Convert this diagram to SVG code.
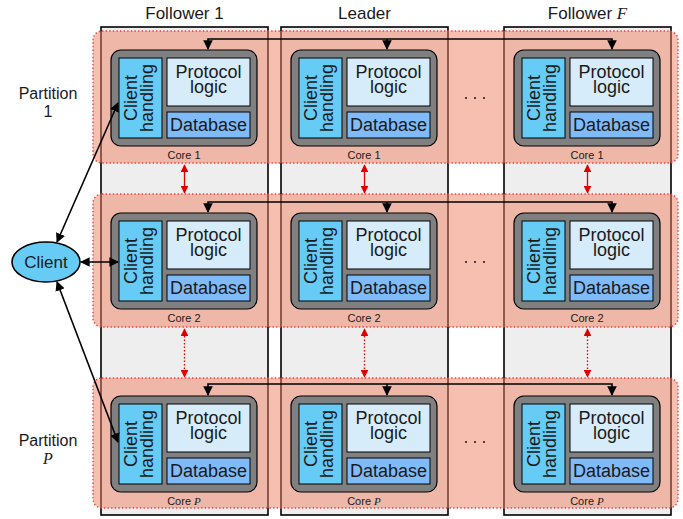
<svg xmlns="http://www.w3.org/2000/svg" width="683" height="519" viewBox="0 0 683 519">
  <style>
    .col { fill: #eeeeee; stroke: #000; stroke-width: 1.6; }
    .band { fill: #f08060; fill-opacity: 0.5; stroke: #f03c3c; stroke-width: 1.4; stroke-dasharray: 1.4 2.2; }
    .core { fill: #808080; stroke: #000; stroke-width: 1.2; }
    .ch { fill: #66ccf5; stroke: #000; stroke-width: 1; }
    .pl { fill: #d6ecfa; stroke: #000; stroke-width: 1; }
    .db { fill: #80bbf9; stroke: #000; stroke-width: 1; }
    .t { font-family: "Liberation Sans", Arial, sans-serif; fill: #1a1a1a; }
    .big { font-size: 18px; text-anchor: middle; }
    .hdr { font-size: 17px; text-anchor: middle; }
    .lbl { font-size: 16px; text-anchor: middle; }
    .small { font-size: 11px; text-anchor: middle; }
    .m { font-family: "Liberation Serif", "Times New Roman", serif; font-style: italic; }
    .blk { fill: none; stroke: #000; stroke-width: 1.6; }
    .red { fill: none; stroke: #e00000; stroke-width: 1.3; }
    .reddot { fill: none; stroke: #e00000; stroke-width: 1.3; stroke-dasharray: 1.5 2; }
    .dot { fill: #000; }
  </style>
  <defs>
    <marker id="ah" viewBox="0 0 10 10" refX="9" refY="5" markerWidth="6" markerHeight="6" orient="auto-start-reverse" markerUnits="strokeWidth">
      <path d="M0,0 L10,5 L0,10 z" fill="#000"/>
    </marker>
    <marker id="ahr" viewBox="0 0 10 10" refX="9" refY="5" markerWidth="6" markerHeight="6" orient="auto-start-reverse" markerUnits="strokeWidth">
      <path d="M0,0 L10,5 L0,10 z" fill="#e00000"/>
    </marker>
    <g id="coreTpl">
      <rect class="core" x="0" y="0" width="146" height="96" rx="10"/>
      <rect class="ch" x="8" y="8" width="43" height="80"/>
      <rect class="pl" x="56" y="8" width="83" height="48"/>
      <rect class="db" x="56" y="62" width="83" height="26"/>
      <g transform="translate(29.5,48) rotate(-90)">
        <text class="t big" x="0" y="-3.5">Client</text>
        <text class="t big" x="0" y="12.5">handling</text>
      </g>
      <text class="t big" x="97.5" y="28">Protocol</text>
      <text class="t big" x="97.5" y="43">logic</text>
      <text class="t big" x="97.5" y="81">Database</text>
    </g>
  </defs>

  <!-- replica columns -->
  <g id="columns">
    <rect class="col" x="101" y="27" width="167" height="488"/>
    <rect class="col" x="281" y="27" width="167" height="488"/>
    <rect class="col" x="504" y="27" width="167" height="488"/>
    <text class="t hdr" x="184.5" y="19">Follower 1</text>
    <text class="t hdr" x="364.5" y="19">Leader</text>
    <text class="t hdr" x="587.5" y="19">Follower <tspan class="m">F</tspan></text>
  </g>

  <!-- partition bands -->
  <g id="partitions">
    <rect class="band" x="93" y="31" width="585" height="132" rx="9"/>
    <rect class="band" x="93" y="194" width="585" height="133" rx="9"/>
    <rect class="band" x="93" y="378" width="585" height="130" rx="9"/>
    <text class="t lbl" x="48" y="99">Partition</text>
    <text class="t lbl" x="48" y="117">1</text>
    <text class="t lbl" x="48" y="446">Partition</text>
    <text class="t lbl m" x="48" y="464">P</text>
  </g>

  <!-- cores: row 1 -->
  <g id="f1-core1" transform="translate(111,50)"><use href="#coreTpl"/><text class="t small" x="73" y="109">Core 1</text></g>
  <g id="ld-core1" transform="translate(291,50)"><use href="#coreTpl"/><text class="t small" x="73" y="109">Core 1</text></g>
  <g id="ff-core1" transform="translate(514,50)"><use href="#coreTpl"/><text class="t small" x="73" y="109">Core 1</text></g>
  <!-- cores: row 2 -->
  <g id="f1-core2" transform="translate(111,213)"><use href="#coreTpl"/><text class="t small" x="73" y="109">Core 2</text></g>
  <g id="ld-core2" transform="translate(291,213)"><use href="#coreTpl"/><text class="t small" x="73" y="109">Core 2</text></g>
  <g id="ff-core2" transform="translate(514,213)"><use href="#coreTpl"/><text class="t small" x="73" y="109">Core 2</text></g>
  <!-- cores: row P -->
  <g id="f1-coreP" transform="translate(111,396)"><use href="#coreTpl"/><text class="t small" x="73" y="109">Core <tspan class="m">P</tspan></text></g>
  <g id="ld-coreP" transform="translate(291,396)"><use href="#coreTpl"/><text class="t small" x="73" y="109">Core <tspan class="m">P</tspan></text></g>
  <g id="ff-coreP" transform="translate(514,396)"><use href="#coreTpl"/><text class="t small" x="73" y="109">Core <tspan class="m">P</tspan></text></g>

  <!-- ellipses between leader and follower F -->
  <g id="ellipsis">
    <circle class="dot" cx="466" cy="98" r="0.9"/><circle class="dot" cx="475" cy="98" r="0.9"/><circle class="dot" cx="484" cy="98" r="0.9"/>
    <circle class="dot" cx="466" cy="262" r="0.9"/><circle class="dot" cx="475" cy="262" r="0.9"/><circle class="dot" cx="484" cy="262" r="0.9"/>
    <circle class="dot" cx="466" cy="442" r="0.9"/><circle class="dot" cx="475" cy="442" r="0.9"/><circle class="dot" cx="484" cy="442" r="0.9"/>
  </g>

  <!-- client node -->
  <g id="client">
    <ellipse cx="46" cy="262" rx="34" ry="20" fill="#66ccf5" stroke="#000" stroke-width="1.6"/>
    <text class="t hdr" x="46" y="268">Client</text>
  </g>

  <g id="connectors">
    <!-- replication buses per partition -->
    <path class="blk" d="M208,49 V39 H612 V49" marker-start="url(#ah)" marker-end="url(#ah)"/>
    <path class="blk" d="M387,39 V49" marker-end="url(#ah)"/>
    <path class="blk" d="M208,212 V202 H612 V212" marker-start="url(#ah)" marker-end="url(#ah)"/>
    <path class="blk" d="M387,202 V212" marker-end="url(#ah)"/>
    <path class="blk" d="M208,395 V384 H612 V395" marker-start="url(#ah)" marker-end="url(#ah)"/>
    <path class="blk" d="M387,384 V395" marker-end="url(#ah)"/>

    <!-- inter-core links -->
    <path class="red" d="M184.5,165 V193" marker-start="url(#ahr)" marker-end="url(#ahr)"/>
    <path class="red" d="M364.5,165 V193" marker-start="url(#ahr)" marker-end="url(#ahr)"/>
    <path class="red" d="M587.5,165 V193" marker-start="url(#ahr)" marker-end="url(#ahr)"/>
    <path class="reddot" d="M184.5,329 V377" marker-start="url(#ahr)" marker-end="url(#ahr)"/>
    <path class="reddot" d="M364.5,329 V377" marker-start="url(#ahr)" marker-end="url(#ahr)"/>
    <path class="reddot" d="M587.5,329 V377" marker-start="url(#ahr)" marker-end="url(#ahr)"/>

    <!-- client links -->
    <path class="blk" d="M57,242 L118,103" marker-start="url(#ah)" marker-end="url(#ah)"/>
    <path class="blk" d="M81,262 H118" marker-start="url(#ah)" marker-end="url(#ah)"/>
    <path class="blk" d="M57,282 L118,442" marker-start="url(#ah)" marker-end="url(#ah)"/>
  </g>
</svg>
